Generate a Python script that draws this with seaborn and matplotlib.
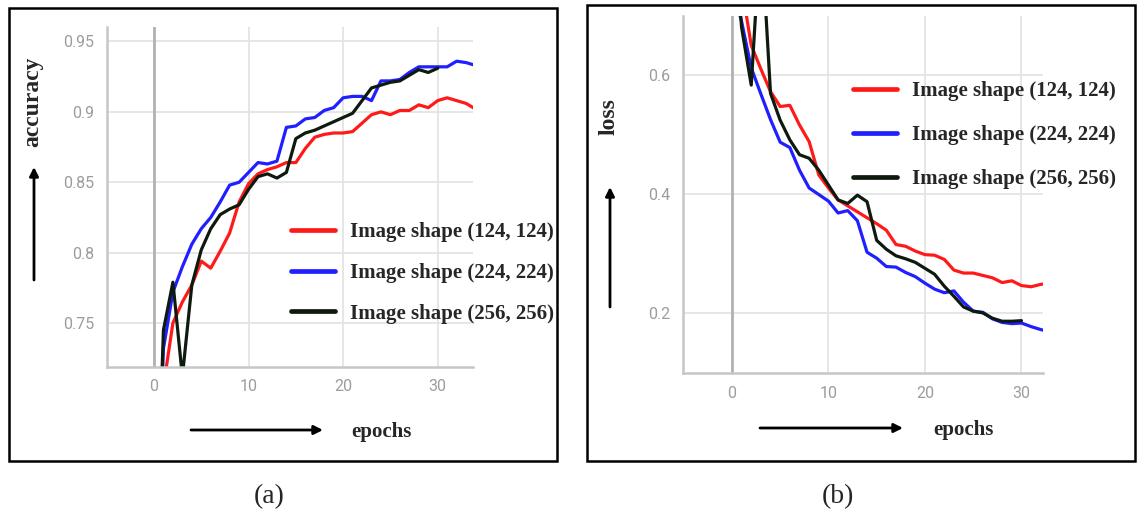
import matplotlib
matplotlib.use("Agg")
import matplotlib.pyplot as plt
from matplotlib.patches import Rectangle
import pandas as pd
import seaborn as sns

W, H = 1137, 520

shapes = ["Image shape (124, 124)", "Image shape (224, 224)", "Image shape (256, 256)"]
colors = ["#ff1a1a", "#1f1fff", "#0d1a0d"]

# accuracy per epoch
acc_124 = [0.50, 0.705, 0.750, 0.765, 0.777, 0.794, 0.789, 0.801, 0.814, 0.836,
           0.849, 0.856, 0.859, 0.861, 0.864, 0.864, 0.874, 0.882, 0.884, 0.885,
           0.885, 0.886, 0.892, 0.898, 0.900, 0.898, 0.901, 0.901, 0.905, 0.903,
           0.908, 0.910, 0.908, 0.906, 0.902]
acc_224 = [0.55, 0.732, 0.772, 0.790, 0.806, 0.817, 0.825, 0.836, 0.848, 0.850,
           0.857, 0.864, 0.863, 0.865, 0.889, 0.890, 0.895, 0.896, 0.901, 0.903,
           0.910, 0.911, 0.911, 0.908, 0.922, 0.922, 0.923, 0.928, 0.932, 0.932,
           0.932, 0.932, 0.936, 0.935, 0.933]
acc_256 = [0.55, 0.745, 0.779, 0.712, 0.777, 0.802, 0.817, 0.827, 0.831, 0.834,
           0.845, 0.854, 0.856, 0.853, 0.857, 0.881, 0.885, 0.887, 0.890, 0.893,
           0.896, 0.899, 0.908, 0.917, 0.919, 0.921, 0.922, 0.926, 0.930, 0.928,
           0.931]

# loss per epoch
loss_124 = [0.95, 0.75, 0.650, 0.610, 0.572, 0.547, 0.549, 0.516, 0.488, 0.432,
            0.410, 0.390, 0.380, 0.370, 0.360, 0.350, 0.339, 0.315, 0.312, 0.304,
            0.298, 0.297, 0.290, 0.272, 0.267, 0.267, 0.263, 0.259, 0.251, 0.254,
            0.246, 0.244, 0.248, 0.250]
loss_224 = [0.75, 0.69, 0.612, 0.568, 0.525, 0.487, 0.478, 0.440, 0.410, 0.399,
            0.388, 0.368, 0.372, 0.355, 0.302, 0.292, 0.278, 0.277, 0.268, 0.261,
            0.250, 0.240, 0.234, 0.237, 0.218, 0.203, 0.201, 0.190, 0.184, 0.182,
            0.183, 0.177, 0.172, 0.168]
loss_256 = [0.90, 0.68, 0.583, 0.85, 0.569, 0.524, 0.491, 0.466, 0.460, 0.440,
            0.415, 0.390, 0.384, 0.398, 0.387, 0.322, 0.307, 0.296, 0.291, 0.285,
            0.275, 0.265, 0.245, 0.228, 0.210, 0.203, 0.200, 0.191, 0.186, 0.186,
            0.187]

epoch_ticks = [0, 10, 20, 30]
acc_ticks = [0.75, 0.8, 0.85, 0.9, 0.95]
acc_tick_labels = ["0.75", "0.8", "0.85", "0.9", "0.95"]
loss_ticks = [0.2, 0.4, 0.6]
loss_tick_labels = ["0.2", "0.4", "0.6"]

SERIF = "Liberation Serif"
TICK_FONT = "Roboto"


def to_long(series):
    frames = []
    for name, vals in zip(shapes, series):
        frames.append(pd.DataFrame({"epoch": list(range(len(vals))), "value": vals, "shape": name}))
    return pd.concat(frames, ignore_index=True)


def px_rect(x0, y0, x1, y1):
    return [x0 / W, 1 - y1 / H, (x1 - x0) / W, (y1 - y0) / H]


def style_axes(ax, xlim, ylim, yticks, ylabels):
    ax.set_xlim(*xlim)
    ax.set_ylim(*ylim)
    ax.set_xticks(epoch_ticks)
    ax.set_yticks(yticks)
    ax.set_yticklabels(ylabels)
    ax.grid(True, color="#e2e2e2", linewidth=1.2)
    ax.set_axisbelow(True)
    ax.axvline(0, color="#b2b2b2", linewidth=2.0, zorder=1)
    for s in ["top", "right"]:
        ax.spines[s].set_visible(False)
    for s in ["left", "bottom"]:
        ax.spines[s].set_color("#c6c6c6")
        ax.spines[s].set_linewidth(1.8)
    ax.tick_params(length=0, labelsize=11.5, labelcolor="#9c9c9c", pad=9)
    for lab in ax.get_xticklabels() + ax.get_yticklabels():
        lab.set_family(TICK_FONT)
    ax.set_xlabel("")
    ax.set_ylabel("")


def draw_panel(fig, rect, data, xlim, ylim, yticks, ylabels, leg_xy, leg_spacing):
    ax = fig.add_axes(rect)
    ax.set_facecolor("white")
    sns.lineplot(data=data, x="epoch", y="value", hue="shape", hue_order=shapes,
                 palette=dict(zip(shapes, colors)), linewidth=2.3, ax=ax)
    style_axes(ax, xlim, ylim, yticks, ylabels)
    handles, labels = ax.get_legend_handles_labels()
    leg = ax.legend(handles, labels, loc="upper left",
                    bbox_to_anchor=(leg_xy[0] / W, 1 - leg_xy[1] / H),
                    bbox_transform=fig.transFigure, frameon=False,
                    borderpad=0, borderaxespad=0, handlelength=2.1,
                    handletextpad=0.75, labelspacing=leg_spacing,
                    prop={"family": SERIF, "weight": "bold", "size": 15})
    for line in leg.get_lines():
        line.set_linewidth(3.4)
    return ax


def arrow(ax, start, end):
    ax.annotate("", xy=(end[0], H - end[1]), xytext=(start[0], H - start[1]),
                xycoords="figure pixels", textcoords="figure pixels",
                annotation_clip=False,
                arrowprops=dict(arrowstyle="-|>", color="black", lw=2.0,
                                mutation_scale=13, shrinkA=0, shrinkB=0))


sns.set_theme(style="white")
plt.rcParams["font.family"] = ["DejaVu Sans"]

fig = plt.figure(figsize=(W / 100, H / 100), dpi=100)
fig.patch.set_facecolor("white")

# outer frames of the two sub-figures
fig.add_artist(Rectangle((9 / W, 1 - 461 / H), (557 - 9) / W, (461 - 8) / H,
                         transform=fig.transFigure, fill=False, edgecolor="black", linewidth=1.8))
fig.add_artist(Rectangle((587 / W, 1 - 461 / H), (1135 - 587) / W, (461 - 5) / H,
                         transform=fig.transFigure, fill=False, edgecolor="black", linewidth=1.8))

ax_acc = draw_panel(fig, px_rect(106.7, 26.7, 472.7, 366.7),
                    to_long([acc_124, acc_224, acc_256]),
                    (-5, 33.7), (0.719, 0.9605), acc_ticks, acc_tick_labels,
                    (291, 222), 1.0)
ax_loss = draw_panel(fig, px_rect(682.7, 15.5, 1042.7, 373),
                     to_long([loss_124, loss_224, loss_256]),
                     (-5.1, 32.2), (0.099, 0.70), loss_ticks, loss_tick_labels,
                     (853, 81), 1.15)

# axis titles with arrows, as in the original figure
fig.text(33 / W, 1 - 102 / H, "accuracy", rotation=90, ha="center", va="center",
         family=SERIF, weight="bold", fontsize=17)
arrow(ax_acc, (34, 280), (34, 167))
fig.text(381 / W, 1 - 432 / H, "epochs", ha="center", va="center",
         family=SERIF, weight="bold", fontsize=15)
arrow(ax_acc, (191, 430), (323, 430))

fig.text(609 / W, 1 - 117 / H, "loss", rotation=90, ha="center", va="center",
         family=SERIF, weight="bold", fontsize=17)
arrow(ax_loss, (610, 307), (610, 187))
fig.text(963 / W, 1 - 430 / H, "epochs", ha="center", va="center",
         family=SERIF, weight="bold", fontsize=15)
arrow(ax_loss, (760, 428), (903, 428))

fig.text(269 / W, 1 - 497 / H, "(a)", ha="center", va="center", family=SERIF, fontsize=20)
fig.text(838 / W, 1 - 497 / H, "(b)", ha="center", va="center", family=SERIF, fontsize=20)

fig.savefig("out.png", dpi=100)
plt.close(fig)
